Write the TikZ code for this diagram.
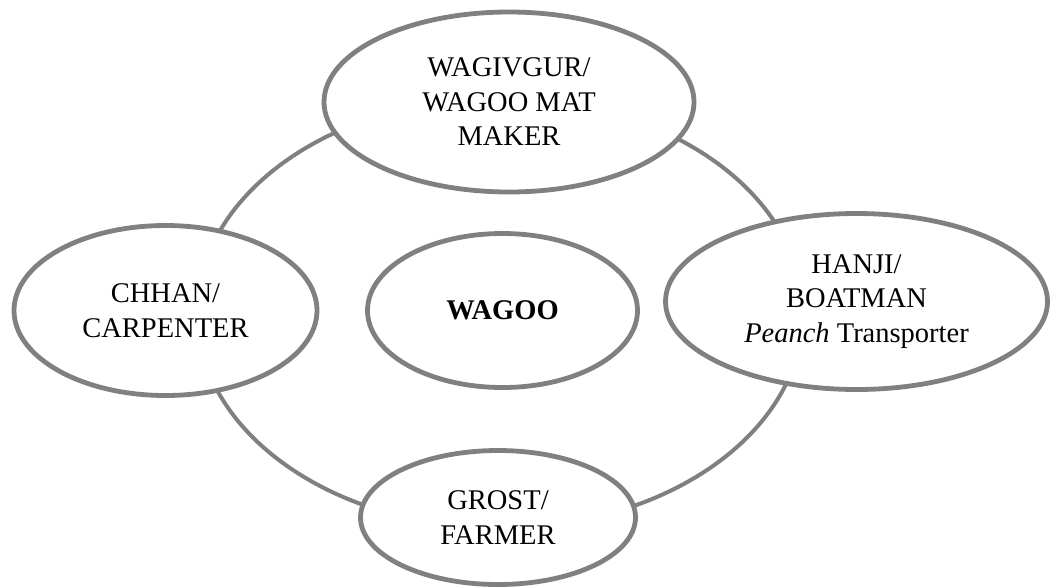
\documentclass[tikz,border=0pt]{standalone}
\usepackage{fontspec}
\setmainfont{Liberation Serif}
\usetikzlibrary{shapes.geometric}
\definecolor{rim}{HTML}{808080}
\begin{document}
\begin{tikzpicture}[x=1pt,y=-1pt,
  role/.style={ellipse,draw=rim,line width=4.8pt,fill=white,inner sep=0pt,
    align=center,font=\fontsize{28.5}{34.5}\selectfont},
  ring/.style={draw=rim,line width=4pt}]
\useasboundingbox (0,0) rectangle (1056,587);
% ring linking the trades around the Wagoo
\coordinate (hub) at (500,313);
\draw[ring] (hub) ellipse [x radius=303, y radius=215];
% trades
\node[role,minimum width=370pt,minimum height=180pt] (mat) at (509,102)
  {WAGIVGUR/\\WAGOO MAT\\MAKER};
\node[role,minimum width=303pt,minimum height=170pt] (chhan) at (165.5,310.5)
  {CHHAN/\\CARPENTER};
\node[role,minimum width=270pt,minimum height=154pt] (wagoo) at (502.5,310.5)
  {\textbf{WAGOO}};
\node[role,minimum width=382pt,minimum height=176pt] (hanji) at (856.5,301.5)
  {HANJI/\\BOATMAN\\\textit{Peanch} Transporter};
\node[role,minimum width=275pt,minimum height=134pt] (grost) at (498,517.5)
  {GROST/\\FARMER};
\end{tikzpicture}
\end{document}
